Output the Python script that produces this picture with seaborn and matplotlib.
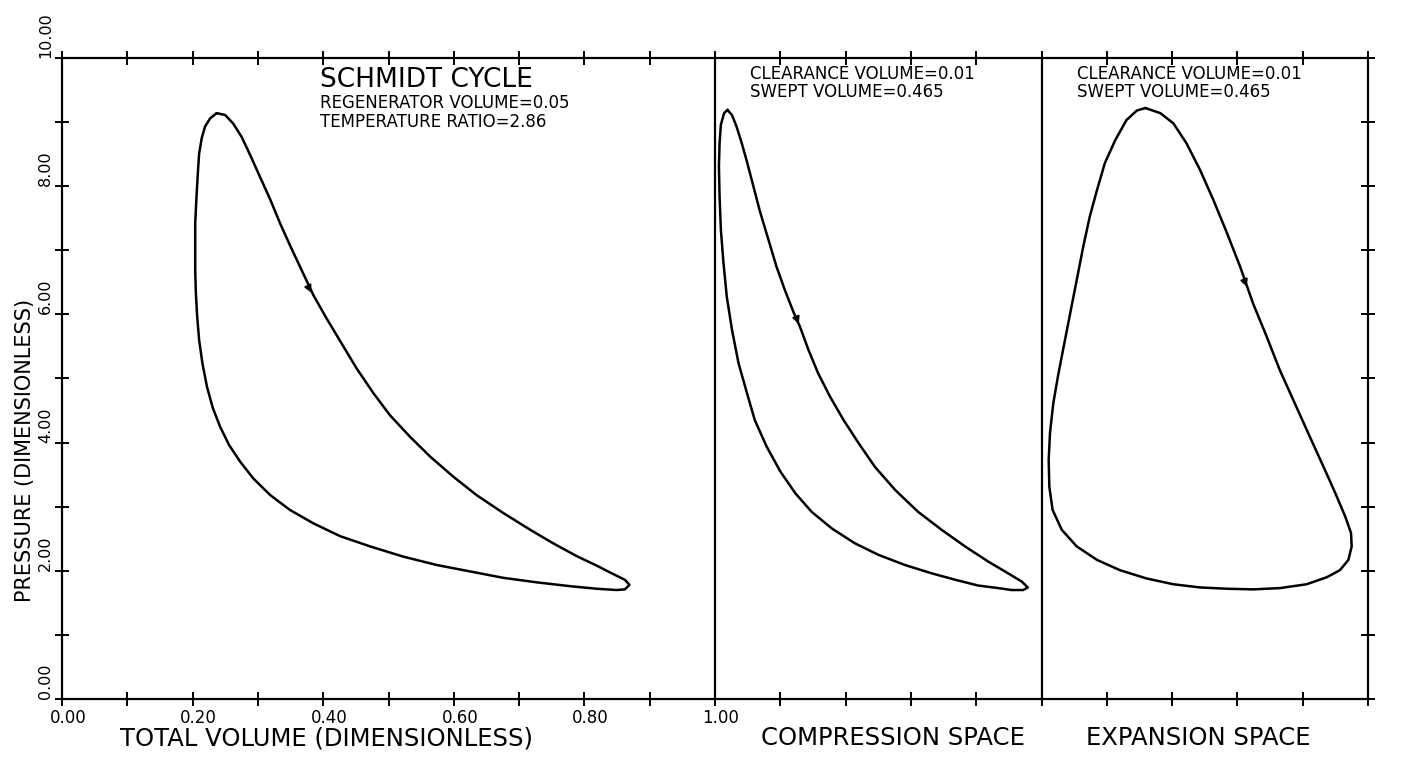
import numpy as np
import matplotlib
matplotlib.use("Agg")
import matplotlib.pyplot as plt
import matplotlib.transforms as mtransforms
import seaborn as sns

# --- data -------------------------------------------------------------
# total volume loop (x = total volume, y = pressure)
total_v = [0.237, 0.227, 0.219, 0.214, 0.210, 0.208, 0.206, 0.204, 0.204, 0.204, 0.205,
           0.207, 0.210, 0.215, 0.222, 0.231, 0.242, 0.256, 0.273, 0.293, 0.319, 0.349,
           0.385, 0.426, 0.472, 0.523, 0.574, 0.625, 0.676, 0.727, 0.778, 0.819, 0.849,
           0.862, 0.869, 0.862, 0.844, 0.819, 0.788, 0.752, 0.717, 0.676, 0.635, 0.599,
           0.564, 0.533, 0.502, 0.477, 0.451, 0.428, 0.405, 0.385, 0.367, 0.349, 0.334,
           0.319, 0.303, 0.288, 0.275, 0.262, 0.250, 0.237]
total_p = [9.14, 9.06, 8.93, 8.75, 8.51, 8.20, 7.84, 7.42, 7.06, 6.69, 6.33,
           5.97, 5.60, 5.24, 4.87, 4.54, 4.25, 3.96, 3.70, 3.44, 3.18, 2.95,
           2.74, 2.54, 2.38, 2.22, 2.09, 1.99, 1.89, 1.82, 1.76, 1.72, 1.70,
           1.71, 1.78, 1.86, 1.95, 2.08, 2.23, 2.43, 2.64, 2.90, 3.18, 3.47,
           3.78, 4.09, 4.43, 4.77, 5.16, 5.55, 5.94, 6.30, 6.69, 7.08, 7.42,
           7.79, 8.15, 8.49, 8.77, 8.98, 9.11, 9.14]

# compression space loop (volume measured from the panel start)
comp_v = [0.019, 0.026, 0.033, 0.041, 0.049, 0.059, 0.069, 0.082, 0.094, 0.107, 0.120,
          0.130, 0.143, 0.158, 0.176, 0.197, 0.220, 0.245, 0.276, 0.311, 0.347, 0.383,
          0.419, 0.449, 0.470, 0.479, 0.472, 0.454, 0.434, 0.403, 0.368, 0.332, 0.291,
          0.250, 0.214, 0.179, 0.148, 0.123, 0.100, 0.079, 0.061, 0.049, 0.036, 0.026,
          0.018, 0.013, 0.009, 0.007, 0.006, 0.007, 0.009, 0.014, 0.019]
comp_p = [9.19, 9.11, 8.93, 8.67, 8.38, 7.99, 7.60, 7.16, 6.75, 6.38, 6.04,
          5.81, 5.45, 5.08, 4.72, 4.35, 3.99, 3.62, 3.26, 2.92, 2.64, 2.38,
          2.14, 1.96, 1.83, 1.74, 1.70, 1.70, 1.73, 1.77, 1.86, 1.96, 2.09,
          2.25, 2.43, 2.66, 2.92, 3.21, 3.55, 3.94, 4.35, 4.77, 5.24, 5.76,
          6.28, 6.80, 7.32, 7.84, 8.31, 8.67, 8.96, 9.14, 9.19]

# expansion space loop
exp_v = [0.159, 0.182, 0.202, 0.222, 0.243, 0.263, 0.284, 0.304, 0.324, 0.345, 0.365,
         0.388, 0.411, 0.432, 0.450, 0.465, 0.474, 0.475, 0.470, 0.457, 0.437, 0.406,
         0.365, 0.324, 0.284, 0.243, 0.202, 0.161, 0.120, 0.085, 0.054, 0.031, 0.017,
         0.012, 0.011, 0.013, 0.018, 0.026, 0.035, 0.044, 0.054, 0.064, 0.074, 0.085,
         0.097, 0.113, 0.130, 0.146, 0.159]
exp_p = [9.22, 9.14, 8.98, 8.67, 8.25, 7.79, 7.27, 6.75, 6.17, 5.65, 5.13,
         4.61, 4.09, 3.62, 3.21, 2.85, 2.59, 2.38, 2.17, 2.01, 1.90, 1.79,
         1.73, 1.71, 1.72, 1.74, 1.79, 1.88, 2.01, 2.17, 2.38, 2.64, 2.95,
         3.31, 3.73, 4.15, 4.61, 5.08, 5.55, 6.02, 6.54, 7.06, 7.53, 7.94,
         8.36, 8.72, 9.03, 9.18, 9.22]

# direction arrows sitting on each loop
arrow_v = [0.384, 1.130, 1.816]
arrow_p = [6.30, 5.81, 6.39]

xtick_vals = [0.0, 0.2, 0.4, 0.6, 0.8, 1.0]
xtick_labels = ["0.00", "0.20", "0.40", "0.60", "0.80", "1.00"]
ytick_vals = [0, 2, 4, 6, 8, 10]
ytick_labels = ["0.00", "2.00", "4.00", "6.00", "8.00", "10.00"]

comp_start = 1.0
exp_start = 1.5

# --- figure -----------------------------------------------------------
sns.set_theme(style="white")
plt.rcParams["font.family"] = ["DejaVu Sans"]
plt.rcParams.update({"text.color": "black", "axes.labelcolor": "black",
                     "xtick.color": "black", "ytick.color": "black"})

fig = plt.figure(figsize=(14.02, 7.58), dpi=100)
ax = fig.add_axes([62 / 1402, 1 - 699 / 758, 1306 / 1402, 641 / 758])

lw = 1.8
sns.lineplot(x=total_v, y=total_p, sort=False, estimator=None, color="black", lw=lw, ax=ax)
sns.lineplot(x=np.array(comp_v) + comp_start, y=comp_p, sort=False, estimator=None,
             color="black", lw=lw, ax=ax)
sns.lineplot(x=np.array(exp_v) + exp_start, y=exp_p, sort=False, estimator=None,
             color="black", lw=lw, ax=ax)

ax.axvline(comp_start, color="black", lw=1.6)
ax.axvline(exp_start, color="black", lw=1.6)

ax.set_xlim(0, 2.0)
ax.set_ylim(0, 10)
for s in ax.spines.values():
    s.set_visible(True)
    s.set_color("black")
    s.set_linewidth(1.6)

# ticks
xt = np.round(np.arange(0, 2.001, 0.1), 2)
ax.set_xticks(xt)
ax.set_xticklabels([xtick_labels[xtick_vals.index(t)] if t in xtick_vals else "" for t in xt],
                   fontsize=12)
ax.set_yticks(range(0, 11))
ax.set_yticklabels([ytick_labels[ytick_vals.index(t)] if t in ytick_vals else ""
                    for t in range(0, 11)], fontsize=11.5)
ax.tick_params(axis="both", which="both", direction="inout", length=9.5, width=1.4,
               color="black", bottom=True, top=True, left=True, right=True,
               labelbottom=True, labelleft=True, labeltop=False, labelright=False)
ax.tick_params(axis="x", pad=2.5)
ax.tick_params(axis="y", pad=4)

shift = mtransforms.ScaledTranslation(6 / 100, 0, fig.dpi_scale_trans)
for lbl in ax.get_xticklabels():
    lbl.set_transform(lbl.get_transform() + shift)
for lbl in ax.get_yticklabels():
    lbl.set_rotation(90)
    lbl.set_rotation_mode("anchor")
    lbl.set_ha("left")
    lbl.set_va("baseline")

ax.set_ylabel("PRESSURE (DIMENSIONLESS)", fontsize=15, va="center")
ax.yaxis.set_label_coords(-0.028, 0.388)

xaxis_tr = mtransforms.blended_transform_factory(ax.transData, ax.transAxes)
ax.text(0.405, -0.061, "TOTAL VOLUME (DIMENSIONLESS)", transform=xaxis_tr,
        ha="center", va="center", fontsize=17.5)
ax.text(1.272, -0.061, "COMPRESSION SPACE", transform=xaxis_tr,
        ha="center", va="center", fontsize=17.5)
ax.text(1.740, -0.061, "EXPANSION SPACE", transform=xaxis_tr,
        ha="center", va="center", fontsize=17.5)

# annotations
ax.text(0.395, 9.66, "SCHMIDT CYCLE", ha="left", va="center", fontsize=19)
ax.text(0.395, 9.30, "REGENERATOR VOLUME=0.05", ha="left", va="center", fontsize=12)
ax.text(0.395, 9.00, "TEMPERATURE RATIO=2.86", ha="left", va="center", fontsize=12)
ax.text(1.054, 9.75, "CLEARANCE VOLUME=0.01", ha="left", va="center", fontsize=12)
ax.text(1.054, 9.47, "SWEPT VOLUME=0.465", ha="left", va="center", fontsize=12)
ax.text(1.554, 9.75, "CLEARANCE VOLUME=0.01", ha="left", va="center", fontsize=12)
ax.text(1.554, 9.47, "SWEPT VOLUME=0.465", ha="left", va="center", fontsize=12)

# arrow heads pointing down along each loop
loops = [(np.array(total_v), np.array(total_p)),
         (np.array(comp_v) + comp_start, np.array(comp_p)),
         (np.array(exp_v) + exp_start, np.array(exp_p))]
for (lv, lp), av, ap in zip(loops, arrow_v, arrow_p):
    i = int(np.argmin((lv - av) ** 2 + ((lp - ap) / 10) ** 2))
    n = len(lv) - 1
    prev_i = (i - 1) % n
    next_i = (i + 1) % n
    lower = prev_i if lp[prev_i] < lp[next_i] else next_i
    upper = next_i if lower == prev_i else prev_i
    p_up = ax.transData.transform((lv[upper], lp[upper]))
    p_lo = ax.transData.transform((lv[lower], lp[lower]))
    d = (p_lo - p_up) / np.hypot(*(p_lo - p_up))
    ax.annotate("", xy=(av, ap), xytext=(-d[0] * 7, -d[1] * 7), textcoords="offset points",
                arrowprops=dict(arrowstyle="-|>", color="black", lw=1.2, mutation_scale=11))

fig.savefig("out.png", dpi=100, facecolor="white")
